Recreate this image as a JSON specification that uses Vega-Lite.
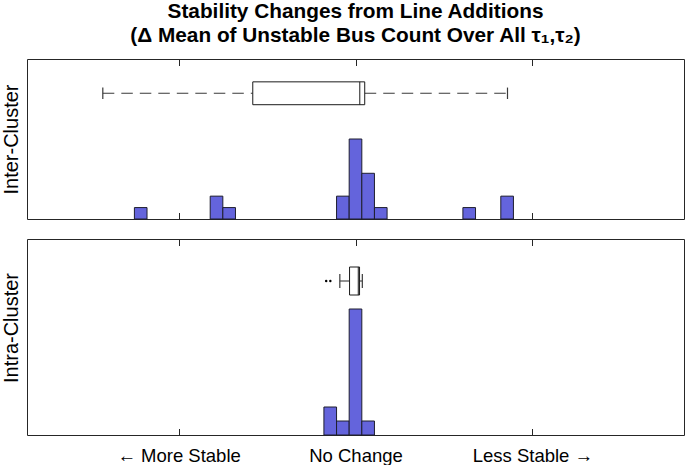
{
  "$schema": "https://vega.github.io/schema/vega-lite/v6.json",
  "padding": {"left": 0, "top": 1, "right": 0, "bottom": 0},
  "background": "white",
  "config": {
    "font": "Liberation Sans",
    "view": {"stroke": "#262626", "strokeWidth": 1},
    "axis": {"labelFont": "Liberation Sans", "titleFont": "Liberation Sans"}
  },
  "title": {
    "text": ["Stability Changes from Line Additions", "(Δ Mean of Unstable Bus Count Over All τ₁,τ₂)"],
    "fontSize": 20.8,
    "fontWeight": "bold",
    "lineHeight": 24,
    "anchor": "middle",
    "offset": 11,
    "dx": 13,
    "color": "#000000"
  },
  "datasets": {
    "hist": [
      {"panel": "Inter-Cluster", "x0": -17.5, "x1": -16.5, "count": 1},
      {"panel": "Inter-Cluster", "x0": -11.5, "x1": -10.5, "count": 2},
      {"panel": "Inter-Cluster", "x0": -10.5, "x1": -9.5, "count": 1},
      {"panel": "Inter-Cluster", "x0": -1.5, "x1": -0.5, "count": 2},
      {"panel": "Inter-Cluster", "x0": -0.5, "x1": 0.5, "count": 7},
      {"panel": "Inter-Cluster", "x0": 0.5, "x1": 1.5, "count": 4},
      {"panel": "Inter-Cluster", "x0": 1.5, "x1": 2.5, "count": 1},
      {"panel": "Inter-Cluster", "x0": 8.5, "x1": 9.5, "count": 1},
      {"panel": "Inter-Cluster", "x0": 11.5, "x1": 12.5, "count": 2},
      {"panel": "Intra-Cluster", "x0": -2.5, "x1": -1.5, "count": 2},
      {"panel": "Intra-Cluster", "x0": -1.5, "x1": -0.5, "count": 1},
      {"panel": "Intra-Cluster", "x0": -0.5, "x1": 0.5, "count": 9},
      {"panel": "Intra-Cluster", "x0": 0.5, "x1": 1.5, "count": 1}
    ],
    "box": [
      {"panel": "Inter-Cluster", "lower": -20, "q1": -8.13, "median": 0.34, "q3": 0.73, "upper": 12.03},
      {"panel": "Intra-Cluster", "lower": -1.24, "q1": -0.47, "median": 0.22, "q3": 0.32, "upper": 0.54}
    ],
    "outliers": [
      {"panel": "Intra-Cluster", "value": -2.32},
      {"panel": "Intra-Cluster", "value": -1.99}
    ]
  },
  "spacing": 18,
  "vconcat": [
    {
      "width": 657,
      "height": 160,
      "resolve": {"axis": {"x": "independent", "y": "independent"}},
      "layer": [
        {
          "data": {"name": "hist"},
          "transform": [{"filter": "datum.panel === 'Inter-Cluster'"}],
          "mark": {"type": "rect", "fill": "#6464dc", "stroke": "#1e1e2e", "strokeWidth": 1},
          "encoding": {
            "x": {"field": "x0", "type": "quantitative", "scale": {"domain": [-26, 26], "nice": false, "zero": false},
              "axis": {"orient": "bottom", "values": [-14, 0, 14], "labels": false, "domain": false, "grid": false, "ticks": true, "tickSize": -6.5, "tickColor": "#262626", "title": null}},
            "x2": {"field": "x1"},
            "y": {"field": "count", "type": "quantitative", "scale": {"domain": [0, 14], "nice": false, "zero": true},
              "axis": {"title": "Inter-Cluster", "ticks": false, "labels": false, "domain": false, "grid": false, "titleFontSize": 20, "titleFontWeight": "normal", "titleColor": "#000000", "titlePadding": 10, "titleAngle": 270, "titleBaseline": "alphabetic"}},
            "y2": {"datum": 0}
          }
        },
        {
          "data": {"name": "box"},
          "transform": [{"filter": "datum.panel === 'Inter-Cluster'"}],
          "mark": {"type": "rule", "stroke": "#3a3a3a", "strokeWidth": 1.1, "strokeDash": [11.5, 7]},
          "encoding": {
            "x": {"field": "lower", "type": "quantitative",
              "axis": {"orient": "top", "values": [-14, 0, 14], "labels": false, "domain": false, "grid": false, "ticks": true, "tickSize": -6.5, "tickColor": "#262626", "title": null}},
            "x2": {"field": "q1"},
            "y": {"datum": 11, "axis": null}
          }
        },
        {
          "data": {"name": "box"},
          "transform": [{"filter": "datum.panel === 'Inter-Cluster'"}],
          "mark": {"type": "rule", "stroke": "#3a3a3a", "strokeWidth": 1.1, "strokeDash": [11.5, 7]},
          "encoding": {
            "x": {"field": "q3", "type": "quantitative", "axis": null},
            "x2": {"field": "upper"},
            "y": {"datum": 11, "axis": null}
          }
        },
        {
          "data": {"name": "box"},
          "transform": [{"filter": "datum.panel === 'Inter-Cluster'"}],
          "mark": {"type": "rule", "stroke": "#3a3a3a", "strokeWidth": 1.2},
          "encoding": {
            "x": {"field": "lower", "type": "quantitative", "axis": null},
            "y": {"datum": 10.5, "axis": null},
            "y2": {"datum": 11.5}
          }
        },
        {
          "data": {"name": "box"},
          "transform": [{"filter": "datum.panel === 'Inter-Cluster'"}],
          "mark": {"type": "rule", "stroke": "#3a3a3a", "strokeWidth": 1.2},
          "encoding": {
            "x": {"field": "upper", "type": "quantitative", "axis": null},
            "y": {"datum": 10.5, "axis": null},
            "y2": {"datum": 11.5}
          }
        },
        {
          "data": {"name": "box"},
          "transform": [{"filter": "datum.panel === 'Inter-Cluster'"}],
          "mark": {"type": "rect", "fill": "white", "stroke": "#1a1a1a", "strokeWidth": 1},
          "encoding": {
            "x": {"field": "q1", "type": "quantitative", "axis": null},
            "x2": {"field": "q3"},
            "y": {"datum": 10, "axis": null},
            "y2": {"datum": 12}
          }
        },
        {
          "data": {"name": "box"},
          "transform": [{"filter": "datum.panel === 'Inter-Cluster'"}],
          "mark": {"type": "rule", "stroke": "#1a1a1a", "strokeWidth": 1},
          "encoding": {
            "x": {"field": "median", "type": "quantitative", "axis": null},
            "y": {"datum": 10, "axis": null},
            "y2": {"datum": 12}
          }
        }
      ]
    },
    {
      "width": 657,
      "height": 196,
      "resolve": {"axis": {"x": "independent", "y": "independent"}},
      "layer": [
        {
          "data": {"name": "hist"},
          "transform": [{"filter": "datum.panel === 'Intra-Cluster'"}],
          "mark": {"type": "rect", "fill": "#6464dc", "stroke": "#1e1e2e", "strokeWidth": 1},
          "encoding": {
            "x": {"field": "x0", "type": "quantitative", "scale": {"domain": [-26, 26], "nice": false, "zero": false},
              "axis": {"orient": "bottom", "values": [-14, 0, 14], "labels": true, "labelExpr": "datum.value < -1 ? '← More Stable' : (datum.value > 1 ? 'Less Stable →' : 'No Change')", "labelFontSize": 18.5, "labelColor": "#000000", "labelPadding": 17.5, "labelFlush": false, "labelOverlap": false, "domain": false, "grid": false, "ticks": true, "tickSize": -6.5, "tickColor": "#262626", "title": null}},
            "x2": {"field": "x1"},
            "y": {"field": "count", "type": "quantitative", "scale": {"domain": [0, 14], "nice": false, "zero": true},
              "axis": {"title": "Intra-Cluster", "ticks": false, "labels": false, "domain": false, "grid": false, "titleFontSize": 20, "titleFontWeight": "normal", "titleColor": "#000000", "titlePadding": 10, "titleAngle": 270, "titleBaseline": "alphabetic", "titleY": 88.5}},
            "y2": {"datum": 0}
          }
        },
        {
          "data": {"name": "box"},
          "transform": [{"filter": "datum.panel === 'Intra-Cluster'"}],
          "mark": {"type": "rule", "stroke": "#3a3a3a", "strokeWidth": 1.1, "strokeDash": [11.5, 7]},
          "encoding": {
            "x": {"field": "lower", "type": "quantitative",
              "axis": {"orient": "top", "values": [-14, 0, 14], "labels": false, "domain": false, "grid": false, "ticks": true, "tickSize": -6.5, "tickColor": "#262626", "title": null}},
            "x2": {"field": "q1"},
            "y": {"datum": 11, "axis": null}
          }
        },
        {
          "data": {"name": "box"},
          "transform": [{"filter": "datum.panel === 'Intra-Cluster'"}],
          "mark": {"type": "rule", "stroke": "#3a3a3a", "strokeWidth": 1.1, "strokeDash": [11.5, 7]},
          "encoding": {
            "x": {"field": "q3", "type": "quantitative", "axis": null},
            "x2": {"field": "upper"},
            "y": {"datum": 11, "axis": null}
          }
        },
        {
          "data": {"name": "box"},
          "transform": [{"filter": "datum.panel === 'Intra-Cluster'"}],
          "mark": {"type": "rule", "stroke": "#3a3a3a", "strokeWidth": 1.2},
          "encoding": {
            "x": {"field": "lower", "type": "quantitative", "axis": null},
            "y": {"datum": 10.5, "axis": null},
            "y2": {"datum": 11.5}
          }
        },
        {
          "data": {"name": "box"},
          "transform": [{"filter": "datum.panel === 'Intra-Cluster'"}],
          "mark": {"type": "rule", "stroke": "#3a3a3a", "strokeWidth": 1.2},
          "encoding": {
            "x": {"field": "upper", "type": "quantitative", "axis": null},
            "y": {"datum": 10.5, "axis": null},
            "y2": {"datum": 11.5}
          }
        },
        {
          "data": {"name": "box"},
          "transform": [{"filter": "datum.panel === 'Intra-Cluster'"}],
          "mark": {"type": "rect", "fill": "white", "stroke": "#1a1a1a", "strokeWidth": 1},
          "encoding": {
            "x": {"field": "q1", "type": "quantitative", "axis": null},
            "x2": {"field": "q3"},
            "y": {"datum": 10, "axis": null},
            "y2": {"datum": 12}
          }
        },
        {
          "data": {"name": "box"},
          "transform": [{"filter": "datum.panel === 'Intra-Cluster'"}],
          "mark": {"type": "rule", "stroke": "#1a1a1a", "strokeWidth": 1},
          "encoding": {
            "x": {"field": "median", "type": "quantitative", "axis": null},
            "y": {"datum": 10, "axis": null},
            "y2": {"datum": 12}
          }
        },
        {
          "data": {"name": "outliers"},
          "transform": [{"filter": "datum.panel === 'Intra-Cluster'"}],
          "mark": {"type": "point", "filled": true, "shape": "circle", "size": 6, "color": "#000000", "opacity": 1},
          "encoding": {
            "x": {"field": "value", "type": "quantitative", "axis": null},
            "y": {"datum": 11, "axis": null}
          }
        }
      ]
    }
  ]
}
